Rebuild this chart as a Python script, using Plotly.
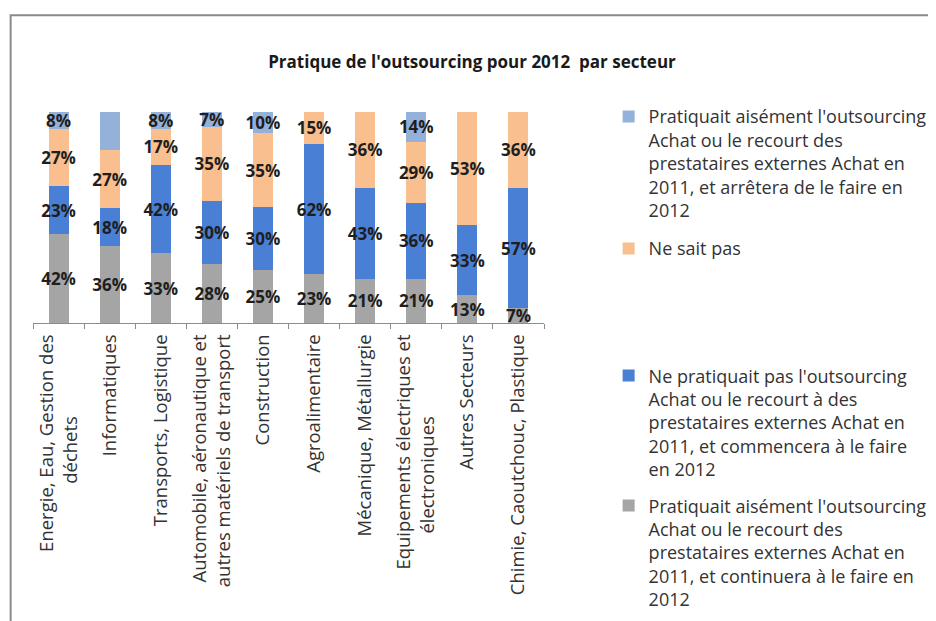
import plotly.graph_objects as go

NB = "\u00a0"

categories = [
    "Energie, Eau, Gestion des<br>déchets" + NB * 17,
    "Informatiques",
    "Transports, Logistique",
    "Automobile, aéronautique et<br>autres matériels de transport",
    "Construction",
    "Agroalimentaire",
    "Mécanique, Métallurgie",
    "Equipements électriques et<br>électroniques" + NB * 17,
    "Autres Secteurs",
    "Chimie, Caoutchouc, Plastique",
]

continuera = [42, 36, 33, 28, 25, 23, 21, 21, 13, 7]
commencera = [23, 18, 42, 30, 30, 62, 43, 36, 33, 57]
ne_sait_pas = [27, 27, 17, 35, 35, 15, 36, 29, 53, 36]
arretera = [8, 18, 8, 7, 10, 0, 0, 14, 0, 0]

names = [
    "Pratiquait aisément l'outsourcing<br>Achat ou le recourt des<br>prestataires externes Achat en<br>2011, et continuera à le faire en<br>2012",
    "Ne pratiquait pas l'outsourcing<br>Achat ou le recourt à des<br>prestataires externes Achat en<br>2011, et commencera à le faire<br>en 2012",
    "Ne sait pas",
    "Pratiquait aisément l'outsourcing<br>Achat ou le recourt des<br>prestataires externes Achat en<br>2011, et arrêtera de le faire en<br>2012",
]
series = [continuera, commencera, ne_sait_pas, arretera]
colors = ["#A5A5A5", "#4A7FD6", "#F9BF8E", "#93B1D9"]
legends = ["legend2", "legend2", "legend", "legend"]
ranks = [4, 3, 2, 1]

OFF = 8  # page body margin
W, H = 936, 621
# plot area in screen pixels
SX0, SX1, SY0, SY1 = 33, 547, 112, 327
L = SX0 - OFF
T = SY0 - OFF
R = W - (SX1 - OFF)
B = H - (SY1 - OFF)
pw, ph = W - L - R, H - T - B

def px_x(xs):
    return (xs - SX0) / pw

def px_y(ys):
    return (SY1 - ys) / ph

fig = go.Figure()
for i, (vals, name, col, lg, rk) in enumerate(zip(series, names, colors, legends, ranks)):
    fig.add_trace(go.Bar(
        x=categories,
        y=vals,
        name=name,
        marker=dict(color=col, line=dict(width=0)),
        text=[f"{v}%" if v > 0 else "" for v in vals],
        texttemplate="%{text}",
        textposition="inside",
        insidetextanchor="middle",
        textangle=0,
        textfont=dict(family="Open Sans", size=17, color="#1e1e1e", weight="bold"),
        constraintext="none",
        cliponaxis=False,
        legend=lg,
        legendgroup=f"g{i}",
        legendrank=rk,
        hoverinfo="skip",
    ))

legend_font = dict(family="Open Sans", size=18, color="#333333")

fig.update_layout(
    width=W, height=H,
    barmode="stack",
    barnorm="percent",
    bargap=0.61,
    margin=dict(l=L, r=R, t=T, b=B),
    paper_bgcolor="white",
    plot_bgcolor="white",
    uniformtext=dict(minsize=17, mode="show"),
    title=dict(
        text="Pratique de l'outsourcing pour 2012  par secteur",
        x=(472 - OFF) / W, xanchor="center",
        y=1 - (62 - OFF) / H, yanchor="middle",
        font=dict(family="Open Sans", size=17, color="#1a1a1a", weight="bold"),
    ),
    xaxis=dict(
        type="category",
        tickangle=-90,
        tickson="boundaries",
        ticks="outside",
        ticklen=5,
        tickcolor="#8c8c8c",
        ticklabelstandoff=3,
        showline=True,
        linecolor="#8c8c8c",
        linewidth=1,
        showgrid=False,
        tickfont=dict(family="Open Sans", size=18.5, color="#333333"),
        range=[-0.5, 9.5],
    ),
    yaxis=dict(
        range=[0, 100],
        visible=False,
        showgrid=False,
    ),
    legend=dict(
        x=px_x(612), xanchor="left",
        y=px_y(98), yanchor="top",
        traceorder="grouped",
        tracegroupgap=12,
        valign="top",
        font=legend_font,
        bgcolor="rgba(0,0,0,0)",
        itemclick=False,
    ),
    legend2=dict(
        x=px_x(612), xanchor="left",
        y=px_y(362), yanchor="top",
        traceorder="grouped",
        tracegroupgap=10,
        valign="top",
        font=legend_font,
        bgcolor="rgba(0,0,0,0)",
        itemclick=False,
    ),
    showlegend=True,
)

# chart frame border (top and left edges visible)
fig.add_shape(
    type="rect", xref="paper", yref="paper",
    x0=px_x(10.5), x1=px_x(W + 20), y0=px_y(H + 20), y1=px_y(13.5),
    line=dict(color="#8a8a8a", width=2),
    fillcolor="rgba(0,0,0,0)",
    layer="below",
)

fig.write_html("out.html")
